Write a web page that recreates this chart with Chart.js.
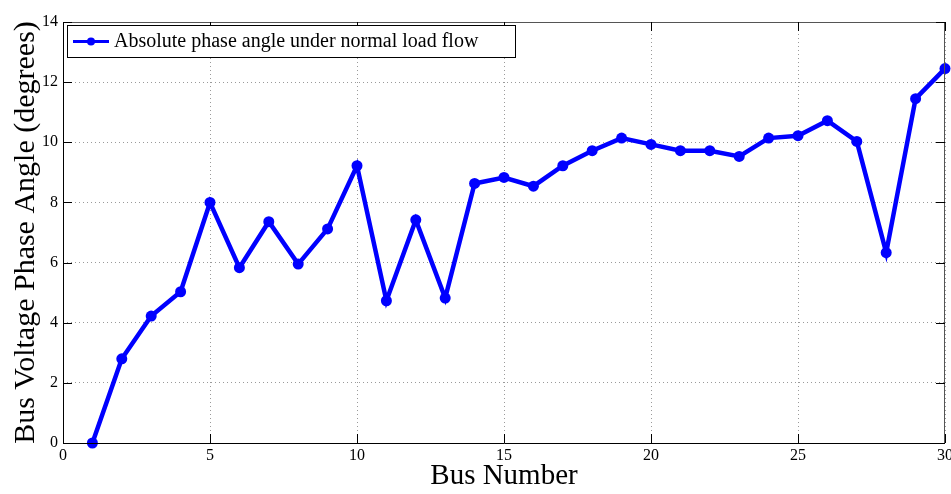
<!DOCTYPE html>
<html>
<head>
<meta charset="utf-8">
<script src="https://cdn.jsdelivr.net/npm/chart.js@4.4.0/dist/chart.umd.min.js"></script>
<style>
html,body{margin:0;padding:0;background:#fff;}
#wrap{width:951px;height:494px;position:relative;}
</style>
</head>
<body>
<div id="wrap"><canvas id="c" width="951" height="494"></canvas></div>
<script>
const busNumbers = [1,2,3,4,5,6,7,8,9,10,11,12,13,14,15,16,17,18,19,20,21,22,23,24,25,26,27,28,29,30];
const phaseAngles = [0,2.8,4.22,5.03,8.0,5.83,7.36,5.95,7.12,9.22,4.73,7.42,4.82,8.63,8.83,8.54,9.22,9.72,10.14,9.93,9.72,9.72,9.53,10.14,10.22,10.72,10.03,6.33,11.45,12.45];
const xTicks = [0,5,10,15,20,25,30];
const yTicks = [0,2,4,6,8,10,12,14];
const seriesLabel = 'Absolute phase angle under normal load flow';

const serif = "'Liberation Serif','Times New Roman',serif";

const frame = {
  id:'frame',
  afterDraw(chart){
    const ctx = chart.ctx, a = chart.chartArea;
    const xs = chart.scales.x, ys = chart.scales.y;
    ctx.save();
    ctx.strokeStyle = '#000';
    ctx.lineWidth = 1;
    ctx.beginPath();
    ctx.moveTo(a.left+0.5, a.top); ctx.lineTo(a.left+0.5, a.bottom+0.5); ctx.lineTo(a.right, a.bottom+0.5);
    ctx.stroke();
    ctx.strokeStyle = '#555';
    ctx.beginPath();
    ctx.moveTo(a.left, a.top+0.5); ctx.lineTo(a.right-0.5, a.top+0.5); ctx.lineTo(a.right-0.5, a.bottom);
    ctx.stroke();
    const tl = 9;
    ctx.strokeStyle = '#000';
    ctx.beginPath();
    xTicks.forEach(v=>{
      const px = Math.round(xs.getPixelForValue(v))+0.5;
      ctx.moveTo(px,a.bottom); ctx.lineTo(px,a.bottom-tl);
      ctx.moveTo(px,a.top); ctx.lineTo(px,a.top+tl);
    });
    yTicks.forEach(v=>{
      const py = Math.round(ys.getPixelForValue(v))+0.5;
      ctx.moveTo(a.left,py); ctx.lineTo(a.left+tl,py);
      ctx.moveTo(a.right,py); ctx.lineTo(a.right-tl,py);
    });
    ctx.stroke();
    // legend
    const lx = a.left+4, ly = a.top+3, lw = 448, lh = 32;
    ctx.fillStyle='#fff';
    ctx.fillRect(lx,ly,lw,lh);
    ctx.strokeStyle='#000';
    ctx.lineWidth=1;
    ctx.strokeRect(lx+0.5,ly+0.5,lw,lh);
    const cy = ly+lh/2+0.5;
    ctx.strokeStyle='#0000ff'; ctx.lineWidth=3;
    ctx.beginPath(); ctx.moveTo(lx+6,cy); ctx.lineTo(lx+42,cy); ctx.stroke();
    ctx.fillStyle='#0000ff';
    ctx.beginPath(); ctx.arc(lx+24,cy,4,0,Math.PI*2); ctx.fill();
    ctx.fillStyle='#000';
    ctx.font = "20px "+serif;
    ctx.textBaseline='middle';
    ctx.fillText(seriesLabel, lx+47, cy);
    ctx.restore();
  }
};

new Chart(document.getElementById('c'), {
  type:'line',
  data:{
    datasets:[{
      label: seriesLabel,
      data: busNumbers.map((b,i)=>({x:b,y:phaseAngles[i]})),
      borderColor:'#0000ff',
      backgroundColor:'#0000ff',
      borderWidth:4.5,
      pointRadius:5.5,
      pointHoverRadius:5.5,
      pointBorderWidth:0,
      tension:0,
      clip:false
    }]
  },
  options:{
    responsive:false,
    animation:false,
    layout:{autoPadding:false, padding:{top:22,right:6,left:0,bottom:0}},
    plugins:{legend:{display:false},tooltip:{enabled:false}},
    scales:{
      x:{
        type:'linear', min:0, max:30,
        afterBuildTicks(s){ s.ticks = xTicks.map(v=>({value:v})); },
        afterFit(s){ s.height = 51; s.paddingRight = 0; s.paddingLeft = 0; },
        grid:{color:'#9a9a9a', lineWidth:1, drawTicks:false},
        border:{display:false, dash:[1,3]},
        ticks:{color:'#000', font:{family:serif,size:16}, padding:3, maxRotation:0},
        title:{display:true, text:'Bus Number', color:'#000', font:{family:serif,size:29}, padding:{top:-2,bottom:0}}
      },
      y:{
        type:'linear', min:0, max:14,
        afterBuildTicks(s){ s.ticks = yTicks.map(v=>({value:v})); },
        afterFit(s){ s.width = 63; s.paddingTop = 0; s.paddingBottom = 0; },
        grid:{color:'#9a9a9a', lineWidth:1, drawTicks:false},
        border:{display:false, dash:[1,3]},
        ticks:{color:'#000', font:{family:serif,size:16}, padding:5},
        title:{display:true, text:'Bus Voltage Phase Angle (degrees)', color:'#000', font:{family:serif,size:30}, padding:{top:8,bottom:0}}
      }
    }
  },
  plugins:[frame]
});
</script>
</body>
</html>
